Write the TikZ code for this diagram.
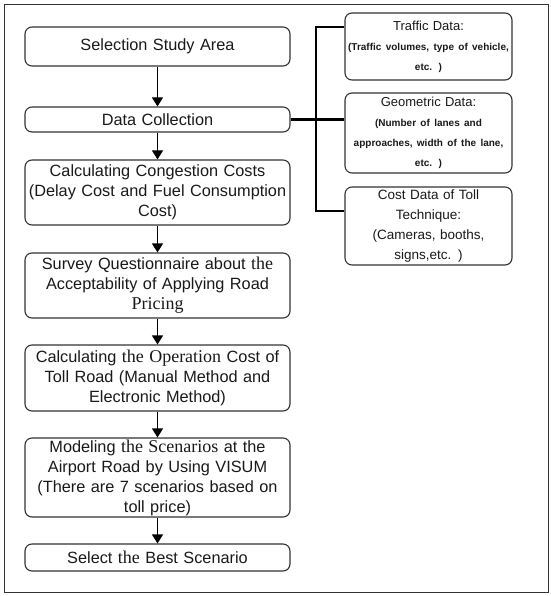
\documentclass[tikz,border=0pt]{standalone}
\usepackage{fontspec}
\setmainfont{Liberation Sans}
\newfontfamily\serf{Liberation Serif}
\usetikzlibrary{arrows.meta}
\newcommand{\sw}[1]{{\serf\fontsize{18}{20}\selectfont #1}}
\newcommand{\sm}[1]{{\bfseries\fontsize{10}{20}\selectfont #1}}
\begin{document}
\begin{tikzpicture}[x=1pt,y=-1pt,
  box/.style={draw=black!80,line width=1.1pt,rounded corners=7pt,align=center,
    inner sep=0pt,text=black!90,font=\fontsize{16.3}{20}\selectfont},
  mainbox/.style={box,minimum width=265pt,text width=263pt},
  sidebox/.style={box,minimum width=167pt,text width=165pt},
  flow/.style={line width=1.1pt,-{Triangle[length=9pt,width=11pt]}},
  link/.style={line width=2.2pt}]
\useasboundingbox (0,0) rectangle (550,596);
\draw[line width=1pt,black!80] (4,5) rectangle (548,592);
\node[mainbox,minimum height=39pt] (b1) at (157.5,46.5) {Selection Study Area};
\node[mainbox,minimum height=25pt] (b2) at (157.5,119.5) {Data Collection};
\node[mainbox,minimum height=65pt] (b3) at (157.5,192.5) {Calculating Congestion Costs\\(Delay Cost and Fuel Consumption\\Cost)};
\node[mainbox,minimum height=65pt] (b4) at (157.5,285.5) {Survey Questionnaire about \sw{the}\\Acceptability of Applying Road\\\sw{Pricing}};
\node[mainbox,minimum height=66pt] (b5) at (157.5,378) {Calculating \sw{the Operation} Cost of\\Toll Road (Manual Method and\\Electronic Method)};
\node[mainbox,minimum height=79pt] (b6) at (157.5,477.5) {Modeling \sw{the Scenarios} at the\\Airport Road by Using VISUM\\(There are 7 scenarios based on\\toll price)};
\node[mainbox,minimum height=27pt] (b7) at (157.5,557.5) {Select \sw{the} Best Scenario};
\node[sidebox,minimum height=67pt,font=\fontsize{13}{20}\selectfont] (t) at (428.5,46.5) {Traffic Data:\\\sm{(Traffic volumes, type of vehicle,}\\\sm{etc. )}};
\node[sidebox,minimum height=80pt,font=\fontsize{13}{20}\selectfont] (g) at (428.5,133) {Geometric Data:\\\sm{(Number of lanes and}\\\sm{approaches, width of the lane,}\\\sm{etc. )}};
\node[sidebox,minimum height=78pt,font=\fontsize{13.5}{20}\selectfont] (c) at (428.5,226) {Cost Data of Toll\\Technique:\\(Cameras, booths,\\signs,etc. )};
\foreach \a/\b in {b1/b2,b2/b3,b3/b4,b4/b5,b5/b6,b6/b7}
  \draw[flow] (\a) -- (\b);
\coordinate (jt) at (316,27);
\coordinate (jb) at (316,211);
\draw[link] (b2.east) -- (g.west |- b2.east);
\draw[link] (t.west |- jt) -- (jt) -- (jb) -- (c.west |- jb);
\end{tikzpicture}
\end{document}
